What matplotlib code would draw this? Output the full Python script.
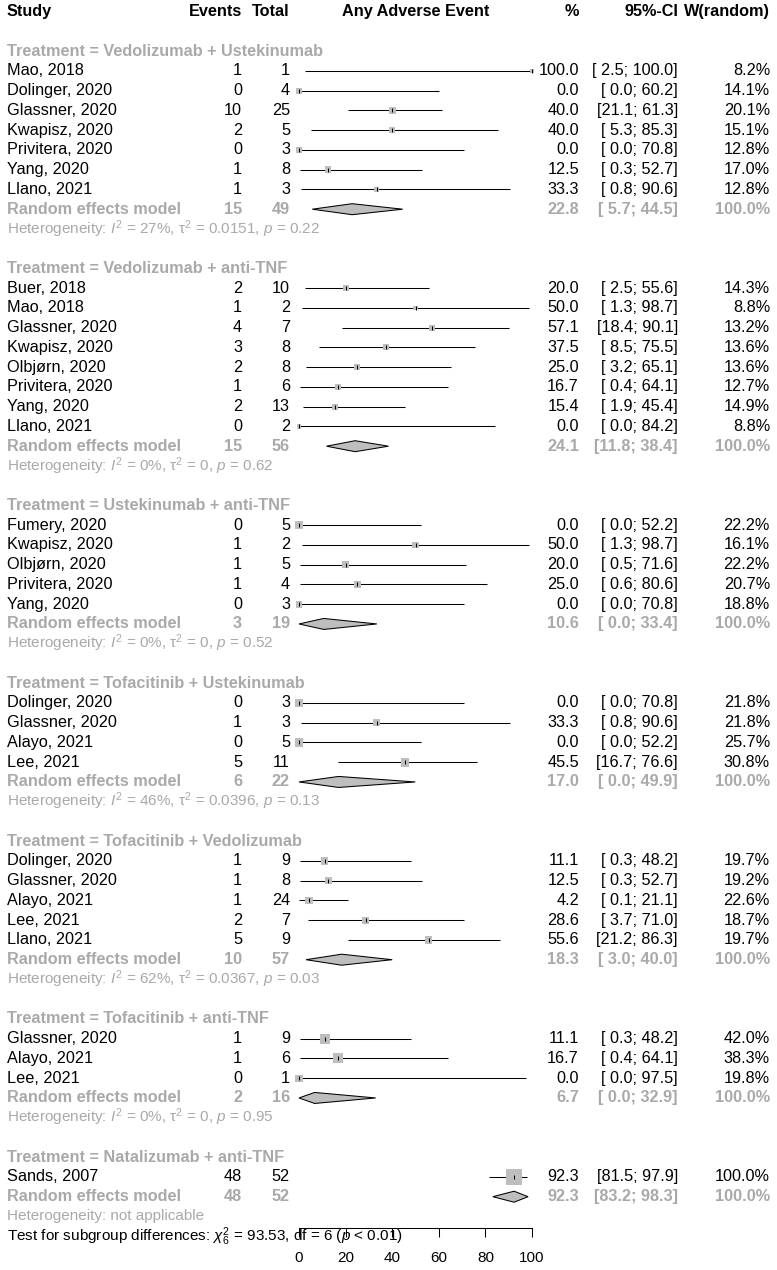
import matplotlib
matplotlib.use("Agg")
import matplotlib.pyplot as plt
import matplotlib.transforms as mtransforms
from matplotlib.patches import Polygon
import numpy as np

plt.rcParams['font.family'] = ['Liberation Sans', 'DejaVu Sans']
plt.rcParams['mathtext.fontset'] = 'custom'
plt.rcParams['mathtext.rm'] = 'Liberation Sans'
plt.rcParams['mathtext.it'] = 'Liberation Sans:italic'
plt.rcParams['mathtext.bf'] = 'Liberation Sans:bold'

# ---- data -----------------------------------------------------------------
groups = ['Vedolizumab + Ustekinumab', 'Vedolizumab + anti-TNF',
          'Ustekinumab + anti-TNF', 'Tofacitinib + Ustekinumab',
          'Tofacitinib + Vedolizumab', 'Tofacitinib + anti-TNF',
          'Natalizumab + anti-TNF']
group_of = [0] * 7 + [1] * 8 + [2] * 5 + [3] * 4 + [4] * 5 + [5] * 3 + [6]

studies = ['Mao, 2018', 'Dolinger, 2020', 'Glassner, 2020', 'Kwapisz, 2020',
           'Privitera, 2020', 'Yang, 2020', 'Llano, 2021',
           'Buer, 2018', 'Mao, 2018', 'Glassner, 2020', 'Kwapisz, 2020',
           'Olbjørn, 2020', 'Privitera, 2020', 'Yang, 2020', 'Llano, 2021',
           'Fumery, 2020', 'Kwapisz, 2020', 'Olbjørn, 2020',
           'Privitera, 2020', 'Yang, 2020',
           'Dolinger, 2020', 'Glassner, 2020', 'Alayo, 2021', 'Lee, 2021',
           'Dolinger, 2020', 'Glassner, 2020', 'Alayo, 2021', 'Lee, 2021',
           'Llano, 2021',
           'Glassner, 2020', 'Alayo, 2021', 'Lee, 2021',
           'Sands, 2007']
events = [1, 0, 10, 2, 0, 1, 1,
          2, 1, 4, 3, 2, 1, 2, 0,
          0, 1, 1, 1, 0,
          0, 1, 0, 5,
          1, 1, 1, 2, 5,
          1, 1, 0,
          48]
totals = [1, 4, 25, 5, 3, 8, 3,
          10, 2, 7, 8, 8, 6, 13, 2,
          5, 2, 5, 4, 3,
          3, 3, 5, 11,
          9, 8, 24, 7, 9,
          9, 6, 1,
          52]
prop = [100.0, 0.0, 40.0, 40.0, 0.0, 12.5, 33.3,
        20.0, 50.0, 57.1, 37.5, 25.0, 16.7, 15.4, 0.0,
        0.0, 50.0, 20.0, 25.0, 0.0,
        0.0, 33.3, 0.0, 45.5,
        11.1, 12.5, 4.2, 28.6, 55.6,
        11.1, 16.7, 0.0,
        92.3]
ci_lo = [2.5, 0.0, 21.1, 5.3, 0.0, 0.3, 0.8,
         2.5, 1.3, 18.4, 8.5, 3.2, 0.4, 1.9, 0.0,
         0.0, 1.3, 0.5, 0.6, 0.0,
         0.0, 0.8, 0.0, 16.7,
         0.3, 0.3, 0.1, 3.7, 21.2,
         0.3, 0.4, 0.0,
         81.5]
ci_hi = [100.0, 60.2, 61.3, 85.3, 70.8, 52.7, 90.6,
         55.6, 98.7, 90.1, 75.5, 65.1, 64.1, 45.4, 84.2,
         52.2, 98.7, 71.6, 80.6, 70.8,
         70.8, 90.6, 52.2, 76.6,
         48.2, 52.7, 21.1, 71.0, 86.3,
         48.2, 64.1, 97.5,
         97.9]
weight = [8.2, 14.1, 20.1, 15.1, 12.8, 17.0, 12.8,
          14.3, 8.8, 13.2, 13.6, 13.6, 12.7, 14.9, 8.8,
          22.2, 16.1, 22.2, 20.7, 18.8,
          21.8, 21.8, 25.7, 30.8,
          19.7, 19.2, 22.6, 18.7, 19.7,
          42.0, 38.3, 19.8,
          100.0]

re_events = [15, 15, 3, 6, 10, 2, 48]
re_totals = [49, 56, 19, 22, 57, 16, 52]
re_prop = [22.8, 24.1, 10.6, 17.0, 18.3, 6.7, 92.3]
re_lo = [5.7, 11.8, 0.0, 0.0, 3.0, 0.0, 83.2]
re_hi = [44.5, 38.4, 33.4, 49.9, 40.0, 32.9, 98.3]
het_i2 = ['27%', '0%', '0%', '46%', '62%', '0%', None]
het_tau2 = ['0.0151', '0', '0', '0.0396', '0.0367', '0', None]
het_p = ['0.22', '0.62', '0.52', '0.13', '0.03', '0.95', None]
x_ticks = [0, 20, 40, 60, 80, 100]

# ---- layout (pixels) --------------------------------------------------------
W, H = 777, 1270
y0, rh = 11.7, 19.75          # first row centre and row height
axis_y = 1228                 # pixel row of the x axis line
x_left, x_right = 299, 532    # 0 and 100 on the axis
col_study, col_events, col_total = 7, 242, 290
col_pct, col_ci, col_w = 579, 678, 770

grey = '#a9a9a9'
box_grey = '#bebebe'
fs = 11.7
fs_het = 11
fs_test = 11

fig = plt.figure(figsize=(W / 100, H / 100), dpi=100)
ax = fig.add_axes([x_left / W, (H - axis_y) / H, (x_right - x_left) / W,
                   axis_y / H])
ax.set_xlim(0, 100)
ax.set_ylim((axis_y - y0) / rh, -y0 / rh)
ax.patch.set_visible(False)

trans = mtransforms.blended_transform_factory(fig.transFigure, ax.transData)


def put(xpx, row, s, ha='left', **kw):
    kw.setdefault('fontsize', fs)
    ax.text(xpx / W, row, s, transform=trans, ha=ha, va='center',
            clip_on=False, **kw)


def ci_text(lo, hi):
    return f"[{lo:4.1f}; {hi:.1f}]"


# header
put(col_study, 0, 'Study', fontweight='bold')
put(col_events, 0, 'Events', ha='right', fontweight='bold')
put(col_total, 0, 'Total', ha='right', fontweight='bold')
ax.text(50, 0, 'Any Adverse Event', ha='center', va='center',
        fontsize=fs, fontweight='bold', clip_on=False)
put(col_pct, 0, '%', ha='right', fontweight='bold')
put(col_ci, 0, '95%-CI', ha='right', fontweight='bold')
put(col_w, 0, 'W(random)', ha='right', fontweight='bold')

max_side = 16 * 0.72          # box side (pt) at 100% weight
tick_len = 4.5 * 0.72
half_h = 5.5 / rh             # diamond half height in rows

row = 2
for g, name in enumerate(groups):
    put(col_study, row, 'Treatment = ' + name, color=grey, fontweight='bold')
    row += 1
    idx = [i for i, k in enumerate(group_of) if k == g]
    for i in idx:
        put(col_study, row, studies[i])
        put(col_events, row, str(events[i]), ha='right')
        put(col_total, row, str(totals[i]), ha='right')
        put(col_pct, row, f"{prop[i]:.1f}", ha='right')
        put(col_ci, row, ci_text(ci_lo[i], ci_hi[i]), ha='right')
        put(col_w, row, f"{weight[i]:.1f}%", ha='right')
        ax.plot([ci_lo[i], ci_hi[i]], [row, row], color='black', lw=0.75,
                zorder=1, clip_on=False, solid_capstyle='butt')
        side = max_side * np.sqrt(weight[i] / 100)
        ax.scatter([prop[i]], [row], marker='s', s=side ** 2, c=box_grey,
                   edgecolors='none', zorder=2, clip_on=False)
        ax.scatter([prop[i]], [row], marker='|', s=tick_len ** 2,
                   c='black', linewidths=0.75, zorder=3, clip_on=False)
        row += 1
    # random effects model
    put(col_study, row, 'Random effects model', color=grey, fontweight='bold')
    put(col_events, row, str(re_events[g]), ha='right', color=grey,
        fontweight='bold')
    put(col_total, row, str(re_totals[g]), ha='right', color=grey,
        fontweight='bold')
    put(col_pct, row, f"{re_prop[g]:.1f}", ha='right', color=grey,
        fontweight='bold')
    put(col_ci, row, ci_text(re_lo[g], re_hi[g]), ha='right', color=grey,
        fontweight='bold')
    put(col_w, row, '100.0%', ha='right', color=grey, fontweight='bold')
    ax.add_patch(Polygon([[re_lo[g], row], [re_prop[g], row - half_h],
                          [re_hi[g], row], [re_prop[g], row + half_h]],
                         closed=True, facecolor=box_grey, edgecolor='black',
                         lw=0.75, zorder=2, clip_on=False))
    row += 1
    if het_i2[g] is None:
        het = 'Heterogeneity: not applicable'
    else:
        het = (f"Heterogeneity: $I^2$ = {het_i2[g]}, τ$^2$ = {het_tau2[g]}, "
               f"$p$ = {het_p[g]}")
    put(col_study, row, het, color=grey, fontsize=fs_het)
    row += 2

put(col_study, row - 1,
    r"Test for subgroup differences: $\chi^2_6$ = 93.53, df = 6 ($p$ < 0.01)",
    fontsize=fs_test)

# x axis
for side in ['top', 'left', 'right']:
    ax.spines[side].set_visible(False)
ax.spines['bottom'].set_bounds(0, 100)
ax.spines['bottom'].set_linewidth(0.75)
ax.set_yticks([])
ax.set_xticks(x_ticks)
ax.set_xticklabels([str(t) for t in x_ticks])
ax.tick_params(axis='x', direction='out', length=6.5, width=0.75,
               labelsize=fs_test, pad=10)

fig.savefig('out.png', dpi=100)
